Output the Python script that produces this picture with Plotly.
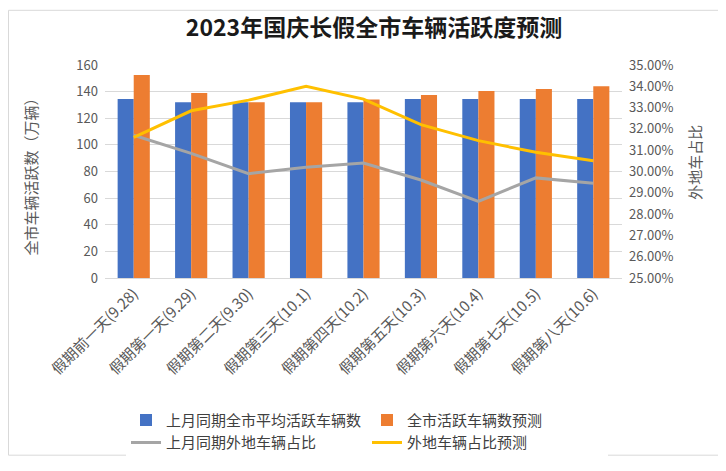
import plotly.graph_objects as go

categories = ["假期前一天(9.28)", "假期第一天(9.29)", "假期第二天(9.30)", "假期第三天(10.1)",
              "假期第四天(10.2)", "假期第五天(10.3)", "假期第六天(10.4)", "假期第七天(10.5)",
              "假期第八天(10.6)"]
last_month_avg = [134.5, 132, 132, 132, 132, 134.5, 134.5, 134.5, 134.5]
forecast_active = [152.5, 139, 132, 132, 134, 137.5, 140.5, 142, 144]
last_month_nonlocal = [0.317, 0.3085, 0.299, 0.302, 0.304, 0.296, 0.286, 0.297, 0.2945]
forecast_nonlocal = [0.316, 0.3285, 0.3335, 0.340, 0.334, 0.322, 0.3145, 0.309, 0.305]

left_ticks = [0, 20, 40, 60, 80, 100, 120, 140, 160]
right_ticks = [0.25, 0.26, 0.27, 0.28, 0.29, 0.30, 0.31, 0.32, 0.33, 0.34, 0.35]

FONT = "Noto Sans CJK SC"
TICK_COLOR = "#595959"

# page body has an 8px default margin; figure sized so it fits the window
W, H = 718, 463
PL, PT, PW, PH = 97, 57, 517, 220   # plot area in figure pixels
OFF = 8


def px_x(sx):
    return (sx - OFF - PL) / PW


def px_y(sy):
    return (PT + PH - (sy - OFF)) / PH


fig = go.Figure()
fig.add_trace(go.Bar(x=categories, y=last_month_avg, name="上月同期全市平均活跃车辆数",
                     marker=dict(color="#4472C4", line=dict(width=0))))
fig.add_trace(go.Bar(x=categories, y=forecast_active, name="全市活跃车辆数预测",
                     marker=dict(color="#ED7D31", line=dict(width=0))))
fig.add_trace(go.Scatter(x=categories, y=last_month_nonlocal, name="上月同期外地车辆占比",
                         mode="lines", line=dict(color="#A5A5A5", width=3), yaxis="y2"))
fig.add_trace(go.Scatter(x=categories, y=forecast_nonlocal, name="外地车辆占比预测",
                         mode="lines", line=dict(color="#FFC000", width=3), yaxis="y2"))

fig.update_layout(
    width=W, height=H,
    margin=dict(l=PL, r=W - PL - PW, t=PT, b=H - PT - PH),
    paper_bgcolor="white", plot_bgcolor="white",
    font=dict(family=FONT, color=TICK_COLOR),
    barmode="group", bargap=0.44, bargroupgap=0,
    title=dict(text="<b>2023年国庆长假全市车辆活跃度预测</b>", x=(374 - OFF) / W, xanchor="center",
               y=1 - (28 - OFF) / H, yanchor="middle",
               font=dict(family=FONT, size=23, color="#1a1a1a")),
    xaxis=dict(tickangle=-45, tickfont=dict(size=15, color=TICK_COLOR), showgrid=False,
               showline=True, linecolor="#D9D9D9", linewidth=1, ticks="", automargin=False),
    yaxis=dict(range=[0, 160], tickvals=left_ticks, showgrid=True, gridcolor="#D9D9D9",
               gridwidth=1, zeroline=False, showline=False, automargin=False,
               tickfont=dict(size=13, color=TICK_COLOR), ticklabelstandoff=6),
    yaxis2=dict(range=[0.25, 0.35], tickvals=right_ticks, tickformat=".2%", overlaying="y",
                side="right", showgrid=False, zeroline=False, showline=False, automargin=False,
                tickfont=dict(size=13, color=TICK_COLOR), ticklabelstandoff=6),
    legend=dict(orientation="h", x=px_x(126), xanchor="left", y=px_y(415), yanchor="top",
                font=dict(size=15, color="#404040"), entrywidth=196, entrywidthmode="pixels",
                traceorder="normal", itemwidth=30),
    showlegend=True,
    annotations=[
        dict(text="全市车辆活跃数（万辆）", textangle=-90, xref="paper", yref="paper",
             x=px_x(30), y=px_y(177), showarrow=False,
             font=dict(size=15, color=TICK_COLOR), xanchor="center", yanchor="middle"),
        dict(text="外地车占比", textangle=-90, xref="paper", yref="paper",
             x=px_x(695), y=px_y(166), showarrow=False,
             font=dict(size=15, color=TICK_COLOR), xanchor="center", yanchor="middle"),
    ],
    shapes=[dict(type="rect", xref="paper", yref="paper",
                 x0=(0.5 - PL) / PW, x1=(W - 1.5 - PL) / PW,
                 y0=px_y(468), y1=(PT + PH - 0.5) / PH,
                 line=dict(color="#D9D9D9", width=1), fillcolor="rgba(0,0,0,0)", layer="below")],
)

fig.write_html("out.html")
